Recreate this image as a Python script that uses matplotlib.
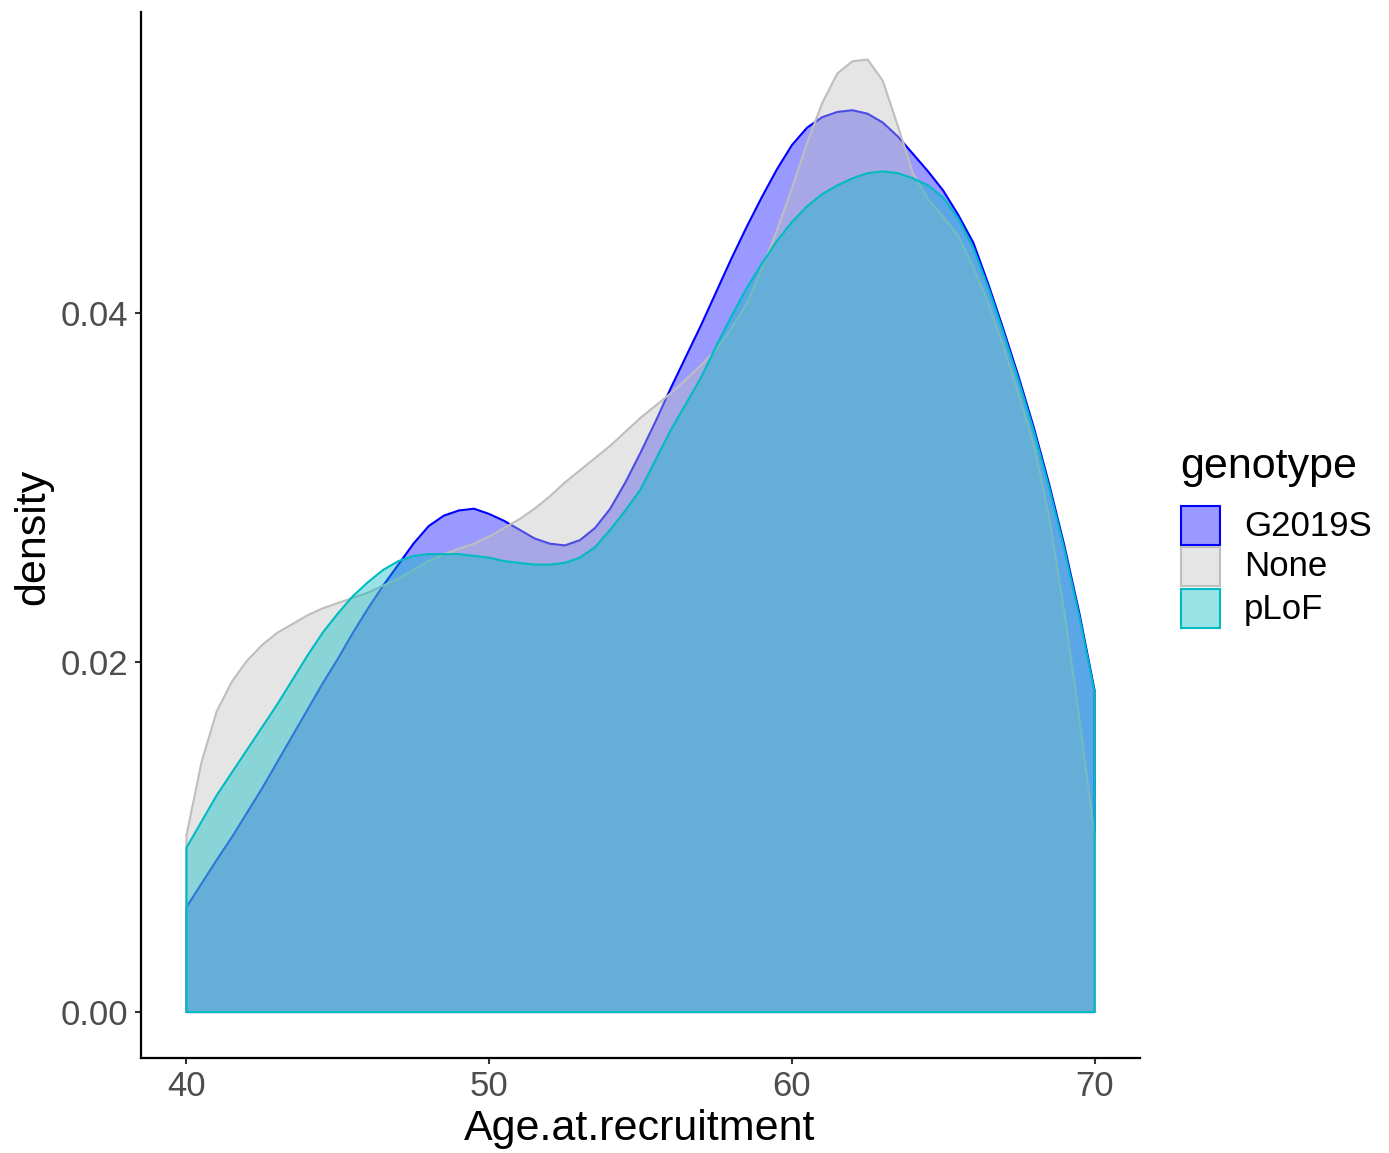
import matplotlib

matplotlib.use("Agg")
import matplotlib.pyplot as plt
from matplotlib.colors import to_rgba
from matplotlib.patches import Rectangle

plt.rcParams["font.family"] = ["Liberation Sans", "DejaVu Sans"]

# kernel density estimates of age at recruitment, per genotype (half-year grid)
AGES = [40 + 0.5 * i for i in range(61)]
G2019S = [0.0060, 0.00735, 0.0087, 0.0100, 0.0114, 0.0128, 0.0143, 0.0158,
          0.0173, 0.0188, 0.0202, 0.0217, 0.0231, 0.0244, 0.0256, 0.0268,
          0.0278, 0.0284, 0.0287, 0.0288, 0.0285, 0.0281, 0.0276, 0.0271,
          0.0268, 0.0267, 0.0270, 0.0277, 0.0288, 0.0303, 0.0320, 0.0338,
          0.0357, 0.0375, 0.0393, 0.0412, 0.0431, 0.0449, 0.0466, 0.0482,
          0.0496, 0.0506, 0.0512, 0.0515, 0.0516, 0.0514, 0.0509, 0.0501,
          0.0491, 0.0481, 0.0470, 0.0456, 0.0440, 0.0416, 0.0390, 0.0363,
          0.0334, 0.0302, 0.0267, 0.0228, 0.0184]
NONE = [0.0101, 0.0143, 0.0172, 0.0189, 0.0201, 0.0210, 0.0217, 0.0222,
        0.0227, 0.0231, 0.0234, 0.0237, 0.0240, 0.0244, 0.0248, 0.0253,
        0.0258, 0.0262, 0.0265, 0.0268, 0.0272, 0.0277, 0.0282, 0.0288,
        0.0295, 0.0303, 0.0310, 0.0317, 0.0324, 0.0332, 0.0340, 0.0347,
        0.0354, 0.0362, 0.0370, 0.0379, 0.0391, 0.0405, 0.0425, 0.0447,
        0.0471, 0.0497, 0.0520, 0.0537, 0.0544, 0.0545, 0.0533, 0.0507,
        0.0480, 0.0465, 0.0455, 0.0444, 0.0426, 0.0405, 0.0380, 0.0353,
        0.0324, 0.0283, 0.0229, 0.0168, 0.0101]
PLOF = [0.0094, 0.0109, 0.0124, 0.0137, 0.0150, 0.0163, 0.0176, 0.0190,
        0.0204, 0.0217, 0.0228, 0.0238, 0.0246, 0.0253, 0.0258, 0.0261,
        0.0262, 0.0262, 0.0262, 0.0261, 0.0260, 0.0258, 0.0257, 0.0256,
        0.0256, 0.0257, 0.0260, 0.0266, 0.0276, 0.0287, 0.0299, 0.0316,
        0.0333, 0.0348, 0.0363, 0.0381, 0.0398, 0.0414, 0.0428, 0.0441,
        0.0452, 0.0461, 0.0468, 0.0473, 0.0477, 0.0480, 0.0481, 0.0480,
        0.0477, 0.0473, 0.0466, 0.0454, 0.0437, 0.0414, 0.0388, 0.0361,
        0.0332, 0.0300, 0.0265, 0.0226, 0.0183]

GENOTYPES = ["G2019S", "None", "pLoF"]
COLORS = ["#0000FF", "#BEBEBE", "#00BBC2"]
X_TICKS = [40, 50, 60, 70]
Y_TICKS = [0.00, 0.02, 0.04]

W, H = 1389, 1153
fig = plt.figure(figsize=(W / 100, H / 100), dpi=100)
ax = fig.add_axes([141 / W, 1 - 1058 / H, (1140 - 141) / W, (1058 - 12) / H])

for i, (dens, color) in enumerate(zip([G2019S, NONE, PLOF], COLORS)):
    xs = [AGES[0]] + AGES + [AGES[-1]]
    ys = [0.0] + dens + [0.0]
    ax.fill(xs, ys, facecolor=to_rgba(color, 0.4), edgecolor=color,
            linewidth=1.5, joinstyle="round", zorder=2 + i)

ax.set_xlim(38.5, 71.5)
ax.set_ylim(-0.00263, 0.05722)
ax.set_xticks(X_TICKS)
ax.set_xticklabels([str(t) for t in X_TICKS])
ax.set_yticks(Y_TICKS)
ax.set_yticklabels([f"{t:.2f}" for t in Y_TICKS])
ax.tick_params(axis="both", length=4.5, width=1.5, color="#333333",
               labelcolor="#4D4D4D", labelsize=25)
ax.tick_params(axis="x", pad=4)
ax.tick_params(axis="y", pad=4.5)
for side in ["top", "right"]:
    ax.spines[side].set_visible(False)
for side in ["left", "bottom"]:
    ax.spines[side].set_linewidth(1.6)
    ax.spines[side].set_color("black")

fig.text(640 / W, 1 - 1129 / H, "Age.at.recruitment", fontsize=31,
         ha="center", va="center")
fig.text(33 / W, 1 - 537 / H, "density", fontsize=31, rotation=90,
         ha="center", va="center")

# legend
fig.text(1180 / W, 1 - 478 / H, "genotype", fontsize=31, ha="left",
         va="baseline")
key_tops = [506, 547, 589]
for name, color, top in zip(GENOTYPES, COLORS, key_tops):
    fig.add_artist(Rectangle((1181 / W, 1 - (top + 39) / H), 39 / W, 39 / H,
                             transform=fig.transFigure,
                             facecolor=to_rgba(color, 0.4), edgecolor=color,
                             linewidth=1.5))
    fig.text(1244 / W, 1 - (top + 20) / H, name, fontsize=25, ha="left",
             va="center")

fig.savefig("out.png", dpi=100)
